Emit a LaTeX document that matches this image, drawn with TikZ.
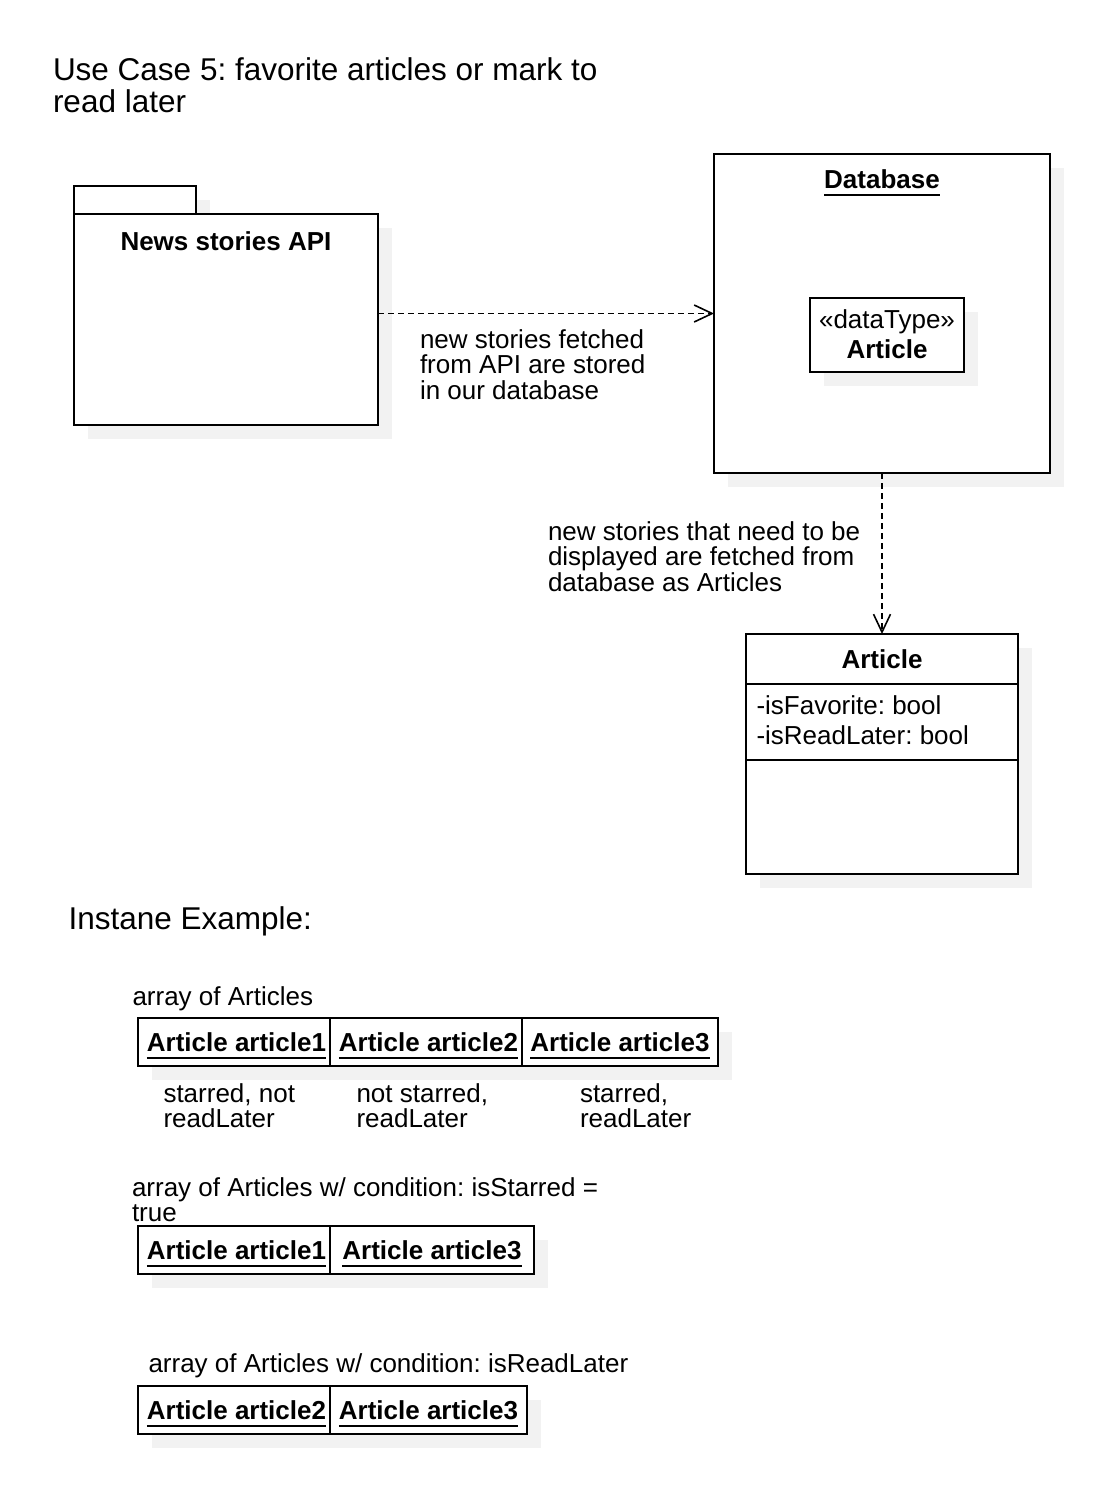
\documentclass[tikz,border=0pt]{standalone}
\usepackage{fontspec}
\setmainfont{Liberation Sans}
\usetikzlibrary{arrows.meta,shadows}
\definecolor{shadowgray}{RGB}{242,242,242}
\frenchspacing
\newcommand\myfs{\fontsize{26pt}{25.8pt}\selectfont}
\newcommand\mytfs{\fontsize{31.5pt}{31.7pt}\selectfont}
\newcommand\myul[1]{\setbox0\hbox{#1}\rlap{\rule[-7.5pt]{\wd0}{2pt}}\box0}
\newcommand\mystrut{\rule{0pt}{21pt}}
\begin{document}
\begin{tikzpicture}[x=1pt,y=-1pt,
  box/.style={draw=black, line width=2pt, fill=white, inner sep=0pt, outer sep=0pt, rectangle},
  shad/.style={drop shadow={shadow xshift=14pt,shadow yshift=-14pt,opacity=1,fill=shadowgray,draw=none}},
  txt/.style={inner sep=0pt, outer sep=0pt, font=\myfs, text=black},
  ttl/.style={inner sep=0pt, outer sep=0pt, font=\mytfs, text=black},
  cell/.style={box, shad, minimum height=48pt, text height=22pt, text depth=4pt, font=\myfs\bfseries},
  dep/.style={line width=1.8pt, dash pattern=on 6pt off 4pt, -{Straight Barb[length=18pt,width=17pt,line width=1.6pt]}},
]
\fill[white] (0,0) rectangle (1108,1492);
\useasboundingbox (0,0) rectangle (1108,1492);

% title
\node[ttl, anchor=north west, align=left] (title) at (53,56.5) {\rule{0pt}{24pt}Use Case 5: favorite articles or mark to\\read later};

% package
\node[box, shad, minimum width=122pt, minimum height=28pt] (tab) at (135,200) {};
\node[box, shad, minimum width=304pt, minimum height=211pt] (pkg) at (226,319.5) {};
\node[txt, anchor=base, font=\myfs\bfseries] (pkgname) at (226,250) {News stories API};

% database
\node[box, shad, minimum width=336pt, minimum height=319pt] (db) at (882,313.5) {};
\node[txt, anchor=base, font=\myfs\bfseries] (dbname) at (882,188.5) {\myul{Database}};
\node[box, shad, minimum width=154pt, minimum height=74pt] (dt) at (887,335) {};
\node[txt, anchor=base] (dtst) at (887,328) {«dataType»};
\node[txt, anchor=base, font=\myfs\bfseries] (dtname) at (887,358) {Article};

% arrow 1
\draw[dep] (pkg.east |- db.west) -- (db.west);
\node[txt, anchor=north west, align=left] (lab1) at (420,327) {\mystrut new stories fetched\\from API are stored\\in our database};

% class Article
\node[box, shad, minimum width=272pt, minimum height=240pt] (cls) at (882,754) {};
\draw[line width=2pt] ([yshift=-50pt]cls.north west) -- ([yshift=-50pt]cls.north east);
\draw[line width=2pt] ([yshift=-126pt]cls.north west) -- ([yshift=-126pt]cls.north east);
\node[txt, anchor=base, font=\myfs\bfseries] (clsname) at (882,668.5) {Article};
\node[txt, anchor=north west, align=left, font=\fontsize{26pt}{30pt}\selectfont] (attrs) at (756.5,693) {\mystrut -isFavorite: bool\\-isReadLater: bool};

% arrow 2
\draw[dep] (db.south) -- (cls.north);
\node[txt, anchor=north west, align=left] (lab2) at (548,519) {\mystrut new stories that need to be\\displayed are fetched from\\database as Articles};

% instance example
\node[ttl, anchor=base west] (inst) at (68.5,929) {Instane Example:};

\node[txt, anchor=base west] (arr1) at (132.5,1005) {array of Articles};
\node[cell, minimum width=192pt] (a1) at (234,1042) {\hspace*{5pt}\myul{Article article1}};
\node[cell, minimum width=192pt] (a2) at (426,1042) {\hspace*{5pt}\myul{Article article2}};
\node[cell, minimum width=196pt] (a3) at (620,1042) {\myul{Article article3}};
\node[txt, anchor=north west, align=left] (n1) at (163.5,1081) {\mystrut starred, not\\readLater};
\node[txt, anchor=north west, align=left] (n2) at (356.5,1081) {\mystrut not starred,\\readLater};
\node[txt, anchor=north west, align=left] (n3) at (580,1081) {\mystrut starred,\\readLater};

\node[txt, anchor=north west, align=left] (arr2) at (132,1175) {\mystrut array of Articles w/ condition: isStarred =\\true};
\node[cell, minimum width=192pt] (b1) at (234,1250) {\hspace*{5pt}\myul{Article article1}};
\node[cell, minimum width=204pt] (b2) at (432,1250) {\myul{Article article3}};

\node[txt, anchor=base west] (arr3) at (148.5,1372.5) {array of Articles w/ condition: isReadLater};
\node[cell, minimum width=192pt] (c1) at (234,1410) {\hspace*{5pt}\myul{Article article2}};
\node[cell, minimum width=197pt] (c2) at (428.5,1410) {\myul{Article article3}};
\end{tikzpicture}
\end{document}
